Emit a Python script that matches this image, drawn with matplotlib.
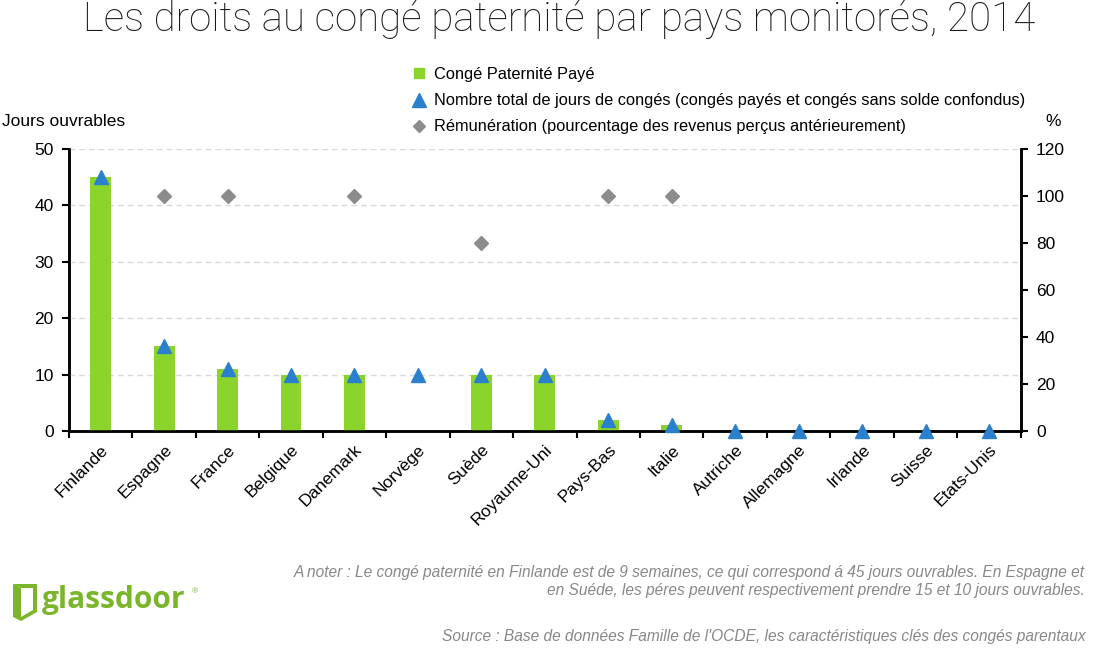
import numpy as np
import matplotlib.pyplot as plt
from matplotlib.lines import Line2D
from matplotlib.patches import Polygon

plt.rcParams['font.family'] = ['Liberation Sans', 'DejaVu Sans']

# Data
pays = ['Finlande', 'Espagne', 'France', 'Belgique', 'Danemark', 'Norvège', 'Suède',
        'Royaume-Uni', 'Pays-Bas', 'Italie', 'Autriche', 'Allemagne', 'Irlande',
        'Suisse', 'Etats-Unis']
conge_paye = [45, 15, 11, 10, 10, 0, 10, 10, 2, 1, 0, 0, 0, 0, 0]
total_jours = [45, 15, 11, 10, 10, 10, 10, 10, 2, 1, 0, 0, 0, 0, 0]
remuneration = [np.nan, 100, 100, np.nan, 100, np.nan, 80, np.nan, 100, 100,
                np.nan, np.nan, np.nan, np.nan, np.nan]

vert = '#8ad42c'
bleu = '#2a80cc'
gris = '#8c8c8c'

fig = plt.figure(figsize=(10.94, 6.48), dpi=100)
ax = fig.add_axes([0.063, 0.335, 0.870, 0.435])
ax2 = ax.twinx()

x = np.arange(len(pays))
ax.bar(x, conge_paye, width=0.33, color=vert, zorder=2)
ax.plot(x, total_jours, linestyle='none', marker='^', markersize=10,
        color=bleu, zorder=4, clip_on=False)
ax2.plot(x, remuneration, linestyle='none', marker='D', markersize=7,
         color=gris, zorder=3, clip_on=False)

ax.set_xlim(-0.5, len(pays) - 0.5)
ax.set_ylim(0, 50)
ax2.set_ylim(0, 120)
ax.set_yticks([0, 10, 20, 30, 40, 50])
ax2.set_yticks([0, 20, 40, 60, 80, 100, 120])

# gridlines
for v in [10, 20, 30, 40, 50]:
    ax.axhline(v, color='#d9d9d9', linestyle=(0, (4, 3)), linewidth=1, zorder=0)

ax.set_xticks(np.arange(len(pays) + 1) - 0.5, minor=False)
ax.set_xticklabels([])
ax.set_xticks(x, minor=True)
ax.set_xticklabels(pays, minor=True, rotation=45, ha='right',
                   rotation_mode='anchor', fontsize=12.5)
ax.tick_params(axis='x', which='minor', length=0, pad=8)
ax.tick_params(axis='x', which='major', length=5, width=1.5, direction='out')
ax.tick_params(axis='y', length=5, width=1.5, labelsize=12.5, pad=6)
ax2.tick_params(axis='y', length=5, width=1.5, labelsize=12.5, pad=6)

for a in (ax, ax2):
    a.spines['top'].set_visible(False)
    for s in ['left', 'right', 'bottom']:
        a.spines[s].set_linewidth(1.8)
ax.set_zorder(ax2.get_zorder() + 1)
ax.patch.set_visible(False)

# titles and labels
fig.text(0.511, 0.970, 'Les droits au congé paternité par pays monitorés, 2014',
         ha='center', va='center', fontsize=29, color='#1a1a1a',
         family=['Roboto', 'Liberation Sans'], fontweight='light')
fig.text(0.002, 0.812, 'Jours ouvrables', ha='left', va='center', fontsize=12.5)
fig.text(0.963, 0.812, '%', ha='center', va='center', fontsize=12.5)

handles = [
    Line2D([], [], linestyle='none', marker='s', markersize=7, color=vert),
    Line2D([], [], linestyle='none', marker='^', markersize=10, color=bleu),
    Line2D([], [], linestyle='none', marker='D', markersize=6, color=gris),
]
labels = ['Congé Paternité Payé',
          'Nombre total de jours de congés (congés payés et congés sans solde confondus)',
          'Rémunération (pourcentage des revenus perçus antérieurement)']
fig.legend(handles, labels, loc='upper left', bbox_to_anchor=(0.368, 0.909),
           frameon=False, fontsize=11.8, handlelength=1.0, handletextpad=0.4,
           labelspacing=0.68, borderpad=0)

# notes
note_col = '#888888'
fig.text(0.992, 0.117,
         'A noter : Le congé paternité en Finlande est de 9 semaines, ce qui correspond á 45 jours ouvrables. En Espagne et',
         ha='right', va='center', fontsize=11.2, style='italic', color=note_col)
fig.text(0.992, 0.088,
         'en Suéde, les péres peuvent respectivement prendre 15 et 10 jours ouvrables.',
         ha='right', va='center', fontsize=11.2, style='italic', color=note_col)
fig.text(0.992, 0.017,
         "Source : Base de données Famille de l'OCDE, les caractéristiques clés des congés parentaux",
         ha='right', va='center', fontsize=11.2, style='italic', color=note_col)

# logo
logo = '#7ab52a'
W, H = 1094.0, 648.0
def px(pts):
    return [[u / W, 1 - v / H] for u, v in pts]
# door: thick left panel + thin frame
fig.patches.append(Polygon(px([(13, 584), (21, 588), (21, 621), (13, 617)]),
                           closed=True, transform=fig.transFigure,
                           facecolor=logo, edgecolor='none'))
fig.patches.append(Polygon(px([(13, 584), (37, 584), (37, 612), (21, 621), (21, 617),
                               (33, 610), (33, 588), (21, 588)]),
                           closed=True, transform=fig.transFigure,
                           facecolor=logo, edgecolor='none'))
fig.text(0.038, 0.074, 'glassdoor', ha='left', va='center', fontsize=21.5,
         fontweight='bold', color=logo, family=['Open Sans', 'Liberation Sans'])
fig.text(0.175, 0.086, '®', ha='left', va='center', fontsize=6, color=logo)

fig.savefig('out.png', dpi=100)
